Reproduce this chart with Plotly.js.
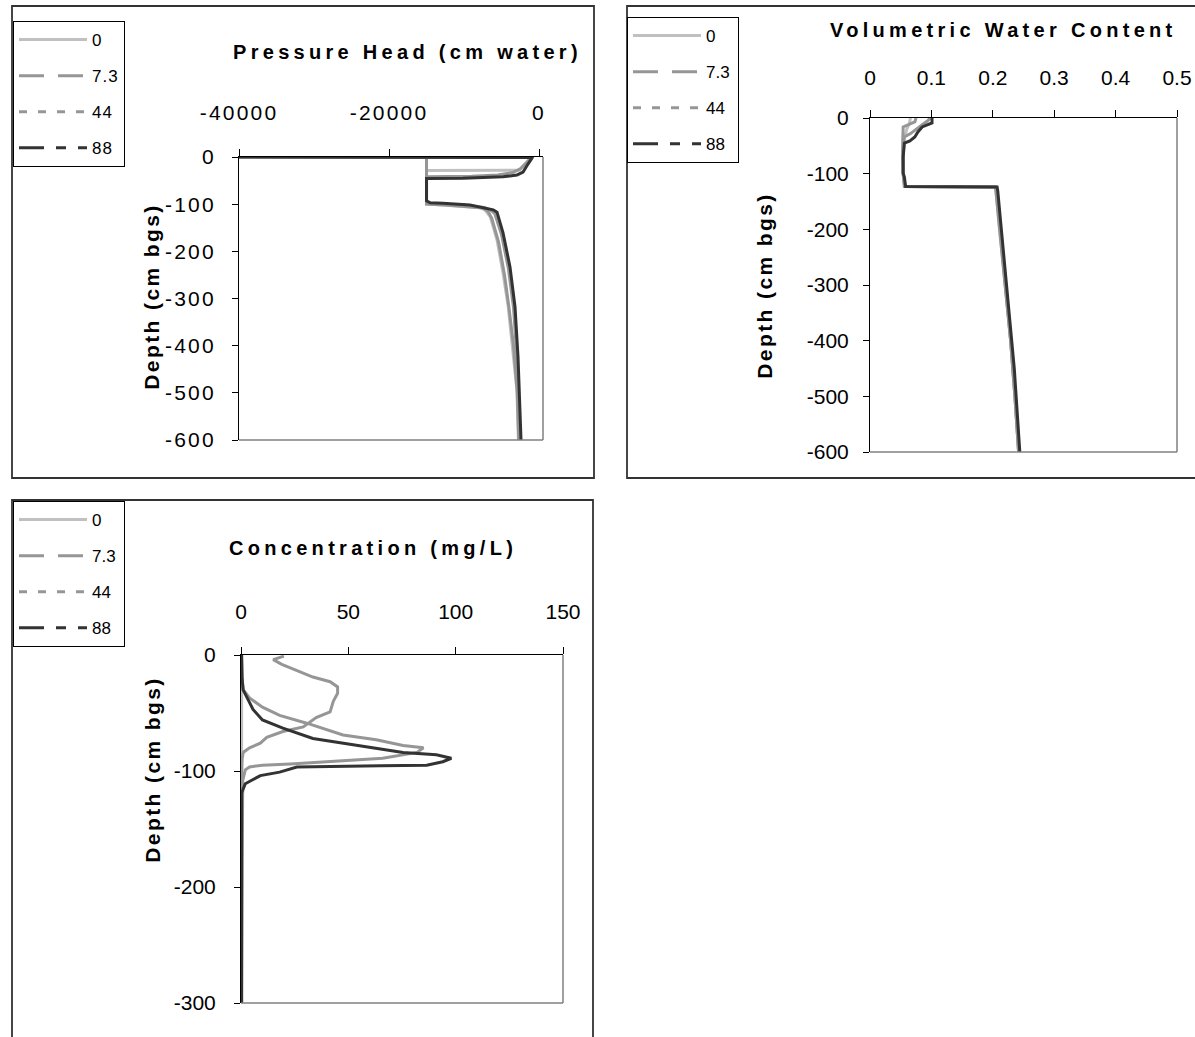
<!DOCTYPE html>
<html><head><meta charset="utf-8">
<script src="https://cdn.plot.ly/plotly-3.0.1.min.js"></script>
<style>
html,body{margin:0;padding:0;background:#fff;}
#chart{width:1195px;height:1037px;}
.xtick text,.ytick text{letter-spacing:2.2px;}
.legendtext{letter-spacing:1px;}
.annotation-text{letter-spacing:4.3px;}
.annotation[data-index="3"] .annotation-text,.annotation[data-index="4"] .annotation-text,.annotation[data-index="5"] .annotation-text{letter-spacing:2.4px;}
</style></head><body><div id="chart"></div><script>
// ---------- legend / series names ----------
const seriesNames = ['0', '7.3', '44', '88'];

// ---------- Panel 1: Pressure Head (cm water) vs Depth (cm bgs) ----------
const phTitle = 'Pressure Head (cm water)';
const phTickVals = [-40000, -20000, 0];
const phTickText = ['-40000', '-20000', '0'];
const phDepth0 = [0, -5, -15, -24, -28, -28.5, -60, -100, -102, -104, -107, -112, -127, -176, -246, -318, -403, -494, -600];
const phHead0  = [-900, -1300, -1800, -2300, -2600, -15000, -15000, -15000, -13000, -10500, -8000, -7200, -6500, -5600, -4800, -4100, -3500, -2950, -2750];
const phDepth1 = [0, -1, -50, -100, -102, -105, -108, -115, -130, -180, -250, -320, -400, -500, -600];
const phHead1  = [-40000, -15000, -15000, -15000, -12500, -9500, -7500, -6800, -6300, -5400, -4600, -4000, -3400, -2900, -2700];
const phDepth2 = [0, -1, -3, -12, -25, -33, -38, -41, -42, -70, -98, -100, -103, -107, -112, -120, -165, -235, -320, -425, -530, -600];
const phHead2  = [-40000, -1000, -1100, -1700, -2500, -3500, -5500, -9000, -15000, -15000, -15000, -13000, -9500, -7300, -6500, -5900, -5000, -4100, -3400, -2950, -2650, -2500];
const phDepth3 = [0, -1, -2, -15, -32, -38, -42, -45, -45.5, -70, -93, -97, -98, -102, -108, -112, -117, -161, -233, -318, -424, -530, -600];
const phHead3  = [-40000, -900, -930, -1470, -2130, -2930, -4800, -10130, -15000, -15000, -15000, -14500, -12800, -9200, -7000, -6100, -5600, -4800, -3870, -3200, -2800, -2530, -2400];

// ---------- Panel 2: Volumetric Water Content vs Depth ----------
const wcTitle = 'Volumetric Water Content';
const wcTickVals = [0, 0.1, 0.2, 0.3, 0.4, 0.5];
const wcTickText = ['0', '0.1', '0.2', '0.3', '0.4', '0.5'];
const wcDepth0 = [0, -10, -20, -28, -30, -60, -100, -123, -124, -130, -200, -300, -400, -500, -600];
const wcVal0   = [0.066, 0.064, 0.06, 0.058, 0.054, 0.054, 0.054, 0.056, 0.203, 0.205, 0.211, 0.220, 0.229, 0.236, 0.242];
const wcDepth1 = [0, -7, -16, -60, -100, -123, -124, -130, -200, -300, -400, -500, -600];
const wcVal1   = [0.075, 0.073, 0.054, 0.053, 0.054, 0.056, 0.204, 0.205, 0.211, 0.220, 0.229, 0.236, 0.242];
const wcDepth2 = [0, -5, -12, -20, -28, -34, -70, -100, -123, -124, -130, -200, -300, -400, -500, -600];
const wcVal2   = [0.098, 0.094, 0.085, 0.076, 0.066, 0.056, 0.054, 0.054, 0.057, 0.205, 0.206, 0.212, 0.221, 0.229, 0.236, 0.242];
const wcDepth3 = [0, -4, -9, -16, -25, -34, -41, -45, -70, -99, -106, -123, -124, -130, -200, -250, -300, -350, -400, -450, -500, -550, -600];
const wcVal3   = [0.101, 0.101, 0.101, 0.085, 0.078, 0.073, 0.065, 0.056, 0.054, 0.054, 0.056, 0.058, 0.207, 0.208, 0.214, 0.219, 0.223, 0.227, 0.231, 0.235, 0.238, 0.241, 0.244];

// ---------- Panel 3: Concentration (mg/L) vs Depth ----------
const cTitle = 'Concentration (mg/L)';
const cTickVals = [0, 50, 100, 150];
const cTickText = ['0', '50', '100', '150'];
const cDepth0 = [0, -100, -200, -300];
const cConc0  = [0.3, 0.3, 0.3, 0.3];
const cDepth1 = [-1, -4, -8, -13, -19, -23, -27.5, -33, -40, -49, -54, -62, -66, -71, -76, -80, -84, -90, -102, -110, -300];
const cConc1  = [20, 15, 19, 26, 33.5, 41.5, 45, 45, 43, 41.5, 35, 29, 19.5, 12, 9, 4, 1, 0.5, 0.3, 0.2, 0.2];
const cDepth2 = [0, -20, -30, -37, -45, -52, -59, -69, -73, -78, -80, -84, -89, -92, -94, -95, -96.5, -99, -108, -300];
const cConc2  = [0.2, 0.5, 1, 4, 10, 18, 31, 47.5, 63, 75.5, 85, 82, 66, 41.5, 23, 10, 4, 2, 0.8, 0.2];
const cDepth3 = [0, -20, -30, -37, -47, -56, -63, -72, -79, -84, -86, -89, -92, -95, -95.5, -96, -96.5, -101, -104, -108, -111, -119, -300];
const cConc3  = [0.3, 0.5, 1, 3, 5.6, 10, 19.5, 33.5, 57, 75.5, 91, 98, 94, 86.5, 65, 38, 26, 18, 9, 5, 2, 0.3, 0.3];

const yTitle = 'Depth (cm bgs)';
const depthTickVals6 = [-600, -500, -400, -300, -200, -100, 0];
const depthTickText6 = ['-600', '-500', '-400', '-300', '-200', '-100', '0'];
const depthTickVals3 = [-300, -200, -100, 0];
const depthTickText3 = ['-300', '-200', '-100', '0'];

// ---------- styles ----------
const W = 1195, H = 1037;
const FONT = 'Liberation Sans, Arial, Helvetica, sans-serif';
const lineColors = ['#c0c0c0', '#969696', '#969696', '#333333'];
const lineDash = ['solid', '25px,14px', '8px,11px', '25px,12px,10px,12px'];
const px = v => v / W;
const py = v => 1 - v / H;

const panels = [
  {xa: 'x', ya: 'y', leg: 'legend', xs: [phHead0, phHead1, phHead2, phHead3], ys: [phDepth0, phDepth1, phDepth2, phDepth3]},
  {xa: 'x2', ya: 'y2', leg: 'legend2', xs: [wcVal0, wcVal1, wcVal2, wcVal3], ys: [wcDepth0, wcDepth1, wcDepth2, wcDepth3]},
  {xa: 'x3', ya: 'y3', leg: 'legend3', xs: [cConc0, cConc1, cConc2, cConc3], ys: [cDepth0, cDepth1, cDepth2, cDepth3]}
];

const traces = [];
panels.forEach((p, pi) => {
  for (let i = 0; i < 4; i++) {
    traces.push({
      type: 'scatter', mode: 'lines', x: p.xs[i], y: p.ys[i], xaxis: p.xa, yaxis: p.ya,
      name: seriesNames[i], legend: p.leg, legendgroup: 'p' + pi + 's' + i, showlegend: false,
      line: {color: lineColors[i], width: 3}, hoverinfo: 'skip'
    });
  }
  for (let i = 0; i < 4; i++) {
    traces.push({
      type: 'scatter', mode: 'lines', x: [null], y: [null], xaxis: p.xa, yaxis: p.ya,
      name: seriesNames[i], legend: p.leg, legendgroup: 'p' + pi + 's' + i, showlegend: true,
      line: {color: lineColors[i], width: 3, dash: lineDash[i]}
    });
  }
});

function xAxis(x0, x1, range, tv, tt, stand, anchor) {
  return {domain: [px(x0), px(x1)], range: range, side: 'top', anchor: anchor,
    tickmode: 'array', tickvals: tv, ticktext: tt, showline: true, linecolor: '#000', linewidth: 1,
    ticks: 'outside', ticklen: 7, tickcolor: '#000', tickwidth: 1, showgrid: false, zeroline: false,
    ticklabelstandoff: stand, tickfont: {family: FONT, size: 21, color: '#000'}, fixedrange: true};
}
function yAxis(y0, y1, range, tv, tt, stand, anchor) {
  return {domain: [py(y1), py(y0)], range: range, anchor: anchor,
    tickmode: 'array', tickvals: tv, ticktext: tt, showline: true, linecolor: '#000', linewidth: 1,
    ticks: 'outside', ticklen: 6, tickcolor: '#000', tickwidth: 1, showgrid: false, zeroline: false,
    ticklabelstandoff: stand, tickfont: {family: FONT, size: 21, color: '#000'}, fixedrange: true};
}
function legendAt(x, y) {
  return {x: px(x), y: py(y), xanchor: 'left', yanchor: 'top', bgcolor: '#fff', bordercolor: '#000',
    borderwidth: 1, font: {family: FONT, size: 17, color: '#000'}, tracegroupgap: 11, itemwidth: 68,
    traceorder: 'grouped'};
}
function box(x0, y0, x1, y1) {
  return {type: 'rect', xref: 'paper', yref: 'paper', x0: px(x0), x1: px(x1), y0: py(y0), y1: py(y1),
    line: {color: '#333', width: 1.8}, fillcolor: 'rgba(0,0,0,0)', layer: 'below'};
}
function plotEdges(xr, yr) {
  return [
    {type: 'line', xref: xr + ' domain', yref: yr + ' domain', x0: 1, x1: 1, y0: 0, y1: 1, line: {color: '#808080', width: 1.5}},
    {type: 'line', xref: xr + ' domain', yref: yr + ' domain', x0: 0, x1: 1, y0: 0, y1: 0, line: {color: '#808080', width: 1.5}}
  ];
}
function titleAnn(text, x, y) {
  return {text: '<b>' + text + '</b>', xref: 'paper', yref: 'paper', x: px(x), y: py(y), xanchor: 'center', yanchor: 'middle',
    showarrow: false, font: {family: FONT, size: 20, color: '#000'}};
}
function yTitleAnn(x, y) {
  return {text: '<b>' + yTitle + '</b>', xref: 'paper', yref: 'paper', x: px(x), y: py(y), xanchor: 'center', yanchor: 'middle',
    textangle: -90, showarrow: false, font: {family: FONT, size: 21, color: '#000'}};
}

const layout = {
  width: W, height: H, margin: {l: 0, r: 0, t: 0, b: 0}, paper_bgcolor: '#fff', plot_bgcolor: '#fff',
  font: {family: FONT, color: '#000'}, showlegend: true, hovermode: false,
  xaxis:  xAxis(239, 543, [-40000, 530], phTickVals, phTickText, 21, 'y'),
  yaxis:  yAxis(157, 440, [-600, 0], depthTickVals6, depthTickText6, 12, 'x'),
  xaxis2: xAxis(870, 1177, [0, 0.5], wcTickVals, wcTickText, 17, 'y2'),
  yaxis2: yAxis(118, 452, [-600, 0], depthTickVals6, depthTickText6, 10, 'x2'),
  xaxis3: xAxis(241, 563, [0, 150], cTickVals, cTickText, 20, 'y3'),
  yaxis3: yAxis(655, 1003, [-300, 0], depthTickVals3, depthTickText3, 14, 'x3'),
  legend: legendAt(13, 21),
  legend2: legendAt(627, 17),
  legend3: legendAt(13, 501),
  shapes: [box(12, 6, 594, 478), box(627, 6, 1200, 478), box(12, 500, 593, 1045)]
    .concat(plotEdges('x', 'y'), plotEdges('x2', 'y2'), plotEdges('x3', 'y3')),
  annotations: [
    titleAnn(phTitle, 407, 52), titleAnn(wcTitle, 1003, 30), titleAnn(cTitle, 373, 548),
    yTitleAnn(152, 297), yTitleAnn(765, 285), yTitleAnn(152, 770)
  ]
};

Plotly.newPlot('chart', traces, layout, {displayModeBar: false, responsive: false});
</script></body></html>
